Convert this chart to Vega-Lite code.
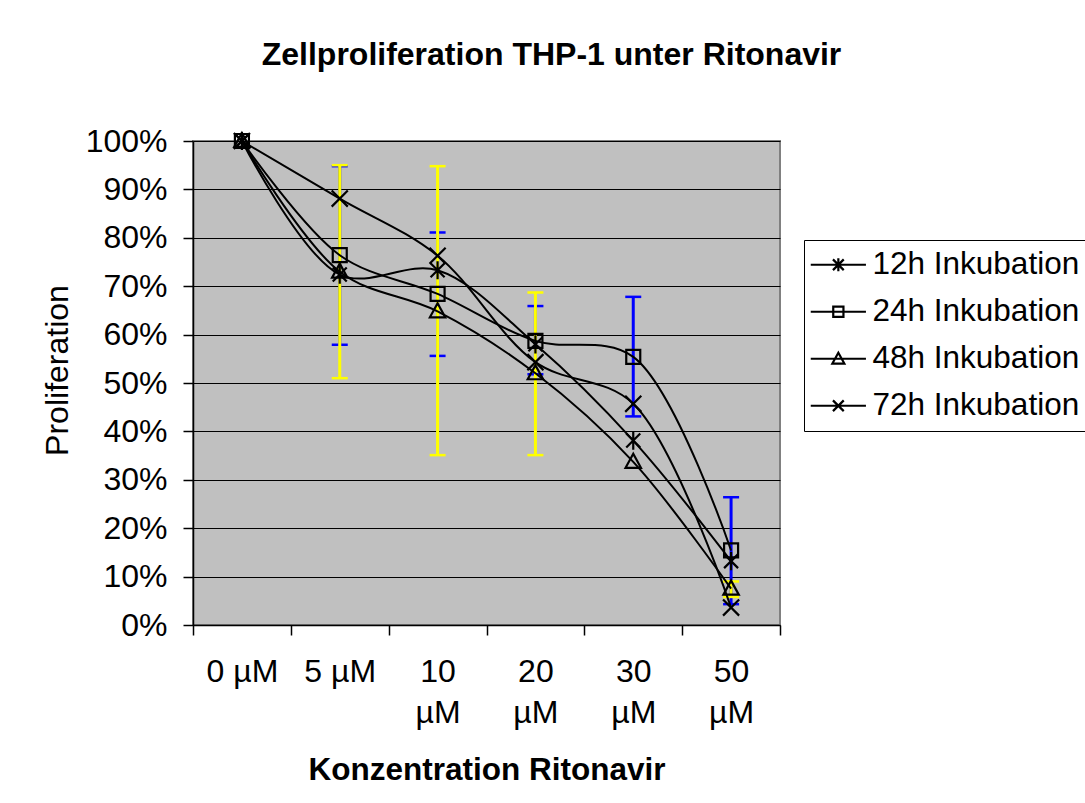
{
  "$schema": "https://vega.github.io/schema/vega-lite/v6.json",
  "width": 587,
  "height": 484,
  "autosize": {"type": "none"},
  "padding": {"left": 193, "top": 141, "right": 305, "bottom": 178},
  "background": "white",
  "title": {
    "text": "Zellproliferation THP-1 unter Ritonavir",
    "font": "Liberation Sans",
    "fontSize": 32,
    "fontWeight": "bold",
    "color": "black",
    "anchor": "middle",
    "frame": "group",
    "dx": 65,
    "offset": 53
  },
  "datasets": {
    "points": [
      {"conc": "0 µM", "series": "12h Inkubation", "value": 100},
      {"conc": "5 µM", "series": "12h Inkubation", "value": 72.4},
      {"conc": "10 µM", "series": "12h Inkubation", "value": 73.3},
      {"conc": "20 µM", "series": "12h Inkubation", "value": 58.0},
      {"conc": "30 µM", "series": "12h Inkubation", "value": 38.1},
      {"conc": "50 µM", "series": "12h Inkubation", "value": 13.2},
      {"conc": "0 µM", "series": "24h Inkubation", "value": 100},
      {"conc": "5 µM", "series": "24h Inkubation", "value": 76.4},
      {"conc": "10 µM", "series": "24h Inkubation", "value": 68.4},
      {"conc": "20 µM", "series": "24h Inkubation", "value": 58.7},
      {"conc": "30 µM", "series": "24h Inkubation", "value": 55.4},
      {"conc": "50 µM", "series": "24h Inkubation", "value": 15.4},
      {"conc": "0 µM", "series": "48h Inkubation", "value": 100},
      {"conc": "5 µM", "series": "48h Inkubation", "value": 73.0},
      {"conc": "10 µM", "series": "48h Inkubation", "value": 64.8},
      {"conc": "20 µM", "series": "48h Inkubation", "value": 52.0},
      {"conc": "30 µM", "series": "48h Inkubation", "value": 33.7},
      {"conc": "50 µM", "series": "48h Inkubation", "value": 7.5},
      {"conc": "0 µM", "series": "72h Inkubation", "value": 100},
      {"conc": "5 µM", "series": "72h Inkubation", "value": 88.1},
      {"conc": "10 µM", "series": "72h Inkubation", "value": 76.3},
      {"conc": "20 µM", "series": "72h Inkubation", "value": 54.3},
      {"conc": "30 µM", "series": "72h Inkubation", "value": 45.7},
      {"conc": "50 µM", "series": "72h Inkubation", "value": 3.6}
    ],
    "errors": [
      {"conc": "5 µM", "series": "24h Inkubation", "lo": 57.9, "hi": 94.8},
      {"conc": "10 µM", "series": "24h Inkubation", "lo": 55.6, "hi": 81.1},
      {"conc": "20 µM", "series": "24h Inkubation", "lo": 51.8, "hi": 65.9},
      {"conc": "30 µM", "series": "24h Inkubation", "lo": 43.1, "hi": 67.8},
      {"conc": "50 µM", "series": "24h Inkubation", "lo": 4.3, "hi": 26.4},
      {"conc": "5 µM", "series": "48h Inkubation", "lo": 51.0, "hi": 95.0},
      {"conc": "10 µM", "series": "48h Inkubation", "lo": 35.1, "hi": 94.8},
      {"conc": "20 µM", "series": "48h Inkubation", "lo": 35.1, "hi": 68.7},
      {"conc": "50 µM", "series": "48h Inkubation", "lo": 5.8, "hi": 9.0}
    ]
  },
  "config": {
    "font": "Liberation Sans",
    "view": {"fill": "#c0c0c0", "stroke": "#808080", "strokeWidth": 2},
    "axis": {
      "labelFont": "Liberation Sans",
      "titleFont": "Liberation Sans",
      "labelColor": "black",
      "titleColor": "black",
      "domainColor": "black",
      "tickColor": "black",
      "labelFontSize": 32,
      "titleFontSize": 32,
      "titleFontWeight": "normal",
      "tickSize": 10,
      "domainWidth": 1.5,
      "tickWidth": 1.5
    }
  },
  "encoding": {
    "x": {
      "field": "conc",
      "type": "ordinal",
      "scale": {
        "type": "band",
        "domain": ["0 µM", "5 µM", "10 µM", "20 µM", "30 µM", "50 µM"],
        "paddingInner": 0,
        "paddingOuter": 0
      },
      "axis": {
        "title": "Konzentration Ritonavir",
        "titleFontWeight": "bold",
        "titleFontSize": 31.5,
        "titleY": 154,
        "titleBaseline": "alphabetic",
        "tickBand": "extent",
        "grid": false,
        "labelAngle": 0,
        "labelAlign": "center",
        "labelBaseline": "alphabetic",
        "labelPadding": 46,
        "labelLineHeight": 41,
        "labelOverlap": false,
        "labelFlush": false,
        "labelExpr": "isString(datum.value) ? (length(datum.value) > 4 ? split(datum.value, ' ') : datum.value) : ''"
      }
    }
  },
  "layer": [
    {
      "data": {"name": "errors"},
      "transform": [{"filter": "datum.series == '24h Inkubation'"}],
      "mark": {"type": "rule", "color": "#0000ff", "strokeWidth": 3},
      "encoding": {
        "y": {
          "field": "lo",
          "type": "quantitative",
          "title": "Proliferation",
          "scale": {"domain": [0, 100], "nice": false},
          "axis": {
            "values": [0, 10, 20, 30, 40, 50, 60, 70, 80, 90, 100],
            "labelExpr": "datum.value + '%'",
            "grid": true,
            "gridColor": "black",
            "gridWidth": 1,
            "labelPadding": 16,
            "titleAngle": 270,
            "titleX": -119,
            "titleY": 229,
            "titleAlign": "center",
            "titleBaseline": "bottom"
          }
        },
        "y2": {"field": "hi"}
      }
    },
    {
      "data": {"name": "errors"},
      "transform": [{"filter": "datum.series == '24h Inkubation'"}],
      "mark": {"type": "point", "shape": "M-1,0L1,0", "filled": false, "stroke": "#0000ff", "strokeWidth": 2.5, "size": 256, "opacity": 1},
      "encoding": {"y": {"field": "lo", "type": "quantitative", "title": "Proliferation"}}
    },
    {
      "data": {"name": "errors"},
      "transform": [{"filter": "datum.series == '24h Inkubation'"}],
      "mark": {"type": "point", "shape": "M-1,0L1,0", "filled": false, "stroke": "#0000ff", "strokeWidth": 2.5, "size": 256, "opacity": 1},
      "encoding": {"y": {"field": "hi", "type": "quantitative", "title": "Proliferation"}}
    },
    {
      "data": {"name": "errors"},
      "transform": [{"filter": "datum.series == '48h Inkubation'"}],
      "mark": {"type": "rule", "color": "#ffff00", "strokeWidth": 3},
      "encoding": {
        "y": {"field": "lo", "type": "quantitative", "title": "Proliferation"},
        "y2": {"field": "hi"}
      }
    },
    {
      "data": {"name": "errors"},
      "transform": [{"filter": "datum.series == '48h Inkubation'"}],
      "mark": {"type": "point", "shape": "M-1,0L1,0", "filled": false, "stroke": "#ffff00", "strokeWidth": 2.5, "size": 256, "opacity": 1},
      "encoding": {"y": {"field": "lo", "type": "quantitative", "title": "Proliferation"}}
    },
    {
      "data": {"name": "errors"},
      "transform": [{"filter": "datum.series == '48h Inkubation'"}],
      "mark": {"type": "point", "shape": "M-1,0L1,0", "filled": false, "stroke": "#ffff00", "strokeWidth": 2.5, "size": 256, "opacity": 1},
      "encoding": {"y": {"field": "hi", "type": "quantitative", "title": "Proliferation"}}
    },
    {
      "data": {"name": "points"},
      "mark": {"type": "line", "interpolate": "catmull-rom", "color": "black", "strokeWidth": 2},
      "encoding": {
        "y": {"field": "value", "type": "quantitative", "title": "Proliferation"},
        "detail": {"field": "series", "type": "nominal"}
      }
    },
    {
      "data": {"name": "points"},
      "mark": {"type": "point", "filled": false, "stroke": "black", "strokeWidth": 2.2, "size": 196, "opacity": 1},
      "encoding": {
        "y": {"field": "value", "type": "quantitative", "title": "Proliferation"},
        "shape": {
          "field": "series",
          "type": "nominal",
          "scale": {
            "domain": ["12h Inkubation", "24h Inkubation", "48h Inkubation", "72h Inkubation"],
            "range": [
              "M-1,-1L1,1M-1,1L1,-1M0,-1.3L0,1.3",
              "M-1,-1L1,-1L1,1L-1,1Z",
              "M0,-1.15L1.1,0.85L-1.1,0.85Z",
              "M-1.15,-1.15L1.15,1.15M-1.15,1.15L1.15,-1.15"
            ]
          },
          "legend": null
        }
      }
    },
    {
      "data": {"name": "points"},
      "mark": {"type": "point", "filled": false, "stroke": "black", "opacity": 0, "size": 144},
      "encoding": {
        "y": {"field": "value", "type": "quantitative", "title": "Proliferation"},
        "shape": {
          "field": "series",
          "type": "nominal",
          "scale": {
            "domain": ["12h Inkubation", "24h Inkubation", "48h Inkubation", "72h Inkubation"],
            "range": [
              "M-3,0L6.2,0M0.7,-0.9L2.5,0.9M0.7,0.9L2.5,-0.9M1.6,-1.1L1.6,1.1",
              "M-3,0L6.2,0M0.75,-0.85L2.45,-0.85L2.45,0.85L0.75,0.85Z",
              "M-3,0L6.2,0M1.6,-1L2.6,0.8L0.6,0.8Z",
              "M-3,0L6.2,0M0.7,-0.9L2.5,0.9M0.7,0.9L2.5,-0.9"
            ]
          },
          "legend": {
            "orient": "none",
            "legendX": 611,
            "legendY": 99,
            "title": null,
            "strokeColor": "black",
            "fillColor": "white",
            "padding": 9,
            "labelFont": "Liberation Sans",
            "labelFontSize": 31.5,
            "labelColor": "black",
            "labelLimit": 400,
            "symbolSize": 144,
            "symbolStrokeWidth": 2.2,
            "symbolStrokeColor": "black",
            "symbolFillColor": "transparent",
            "symbolOpacity": 1,
            "labelOffset": 28,
            "rowPadding": 14
          }
        }
      }
    }
  ],
  "resolve": {"scale": {"shape": "independent"}}
}
